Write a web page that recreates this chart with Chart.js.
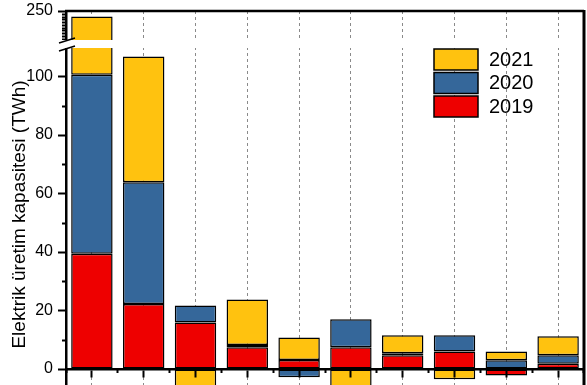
<!DOCTYPE html>
<html>
<head>
<meta charset="utf-8">
<script src="https://cdn.jsdelivr.net/npm/chart.js@4/dist/chart.umd.min.js"></script>
<style>
  body { margin: 0; background: #fff; }
  #wrap { width: 587px; height: 385px; }
</style>
</head>
<body>
<div id="wrap"><canvas id="capChart"></canvas></div>
<script>
/* global Chart */

// categories are cut off in the picture, so plain indexes
const categories = ['1', '2', '3', '4', '5', '6', '7', '8', '9', '10'];
const years = ['2019', '2020', '2021'];
const v2019 = [39.4, 22.2, 15.9, 7.4, 3.1, 7.4, 4.7, 6.0, -2.2, 1.8];
const v2020 = [61.2, 41.6, 5.8, 0.8, -2.8, 9.6, 0.7, 5.5, 3.0, 2.9];
const v2021 = [139.4, 43.0, -7.0, 15.6, 7.7, -7.0, 6.1, -3.5, 3.0, 6.5];
const yLabels = [0, 20, 40, 60, 80, 100];
const yTopLabels = [250];

const colors = ['#EE0000', '#35679A', '#FFC20F'];
const values = [v2019, v2020, v2021];
const FONT = "'Liberation Sans', Arial, sans-serif";

const datasets = [];
['y', 'yTop'].forEach((axis) => {
  for (let i = 0; i < years.length; i += 1) {
    datasets.push({
      label: years[i],
      data: values[i],
      yAxisID: axis,
      xAxisID: 'x',
      backgroundColor: colors[i],
      borderColor: '#000',
      borderWidth: 1.5,
      borderSkipped: false,
      barPercentage: 0.8,
      categoryPercentage: 1,
    });
  }
});

// clip each bar set to its own part of the broken axis
const clipPart = {
  id: 'clipPart',
  beforeDatasetDraw(chart, args) {
    const { ctx, chartArea } = chart;
    const ys = args.meta.yScale;
    ctx.save();
    ctx.beginPath();
    ctx.rect(chartArea.left, ys.top, chartArea.right - chartArea.left, ys.bottom - ys.top);
    ctx.clip();
  },
  afterDatasetDraw(chart) {
    chart.ctx.restore();
  },
};

const decor = {
  id: 'decor',
  afterDraw(chart) {
    const { ctx, chartArea } = chart;
    const y = chart.scales.y;
    const yTop = chart.scales.yTop;
    ctx.save();
    ctx.strokeStyle = '#000';

    // frame top and right
    ctx.lineWidth = 2.5;
    ctx.beginPath();
    ctx.moveTo(chartArea.left - 1, chartArea.top);
    ctx.lineTo(chartArea.right, chartArea.top);
    ctx.stroke();
    ctx.lineWidth = 3;
    ctx.beginPath();
    ctx.moveTo(chartArea.right, chartArea.top - 1);
    ctx.lineTo(chartArea.right, chartArea.bottom);
    ctx.stroke();

    // y tick marks, major and minor
    ctx.lineWidth = 2;
    const tick = (px, len) => {
      ctx.beginPath();
      ctx.moveTo(chartArea.left - len, px);
      ctx.lineTo(chartArea.left, px);
      ctx.stroke();
    };
    for (let v = 0; v <= 100; v += 10) {
      tick(Math.round(y.getPixelForValue(v)) + 0.5, yLabels.includes(v) ? 8 : 4);
    }
    for (let v = 200; v <= 250; v += 5) {
      tick(Math.round(yTop.getPixelForValue(v)) + 0.5, yTopLabels.includes(v) ? 8 : 4);
    }

    // axis break
    const bTop = yTop.bottom - 4;
    const bBot = yTop.bottom + 4;
    ctx.fillStyle = '#fff';
    ctx.fillRect(chartArea.left - 9, bTop, chartArea.right - chartArea.left + 7, bBot - bTop);
    ctx.lineWidth = 1.5;
    ctx.beginPath();
    ctx.moveTo(chartArea.left - 7, bTop + 3);
    ctx.lineTo(chartArea.left + 9, bTop - 2);
    ctx.moveTo(chartArea.left - 7, bBot + 3);
    ctx.lineTo(chartArea.left + 9, bBot - 2);
    ctx.stroke();

    // legend, newest year on top
    const lx = chartArea.right - 150;
    const ly = chartArea.top + 38;
    ctx.font = `20px ${FONT}`;
    ctx.textBaseline = 'middle';
    ctx.textAlign = 'left';
    const own = chart.data.datasets.filter((d) => d.yAxisID === 'y').reverse();
    own.forEach((d, k) => {
      const top = ly + k * 23.5;
      ctx.fillStyle = d.backgroundColor;
      ctx.fillRect(lx, top, 44, 21);
      ctx.lineWidth = 1.5;
      ctx.strokeStyle = '#000';
      ctx.strokeRect(lx, top, 44, 21);
      ctx.fillStyle = '#000';
      ctx.fillText(d.label, lx + 55, top + 11);
    });
    ctx.restore();
  },
};

// fixed axis width, and no extra room kept for half labels at the ends
const fitLeft = (scale) => {
  scale.width = 66;
  scale.paddingTop = 0;
  scale.paddingBottom = 0;
};

const ctx = document.getElementById('capChart');
const capChart = new Chart(ctx, {
  type: 'bar',
  data: { labels: categories, datasets },
  plugins: [clipPart, decor],
  options: {
    responsive: true,
    maintainAspectRatio: false,
    animation: false,
    events: [],
    layout: { padding: { top: 11, right: 3, left: 0, bottom: 0 } },
    plugins: { legend: { display: false }, tooltip: { enabled: false } },
    scales: {
      x: {
        type: 'category',
        stacked: true,
        offset: true,
        position: { y: 0 },
        grid: {
          offset: false,
          color: '#8a8a8a',
          lineWidth: 1,
          drawTicks: false,
        },
        border: { display: false, dash: [3, 3] },
        ticks: { display: false },
      },
      xTick: {
        type: 'category',
        offset: true,
        position: { y: 0 },
        grid: {
          offset: false,
          drawOnChartArea: false,
          tickLength: 7,
          tickColor: '#000',
          tickWidth: 2,
          z: 1,
        },
        border: { display: true, color: '#000', width: 2.5, z: 1 },
        ticks: { display: false },
      },
      xMinor: {
        type: 'category',
        offset: true,
        position: { y: 0 },
        grid: {
          offset: true,
          drawOnChartArea: false,
          tickLength: 4,
          tickColor: '#000',
          tickWidth: 2,
          z: 1,
        },
        border: { display: false },
        ticks: { display: false },
      },
      y: {
        type: 'linear',
        position: 'left',
        stack: 'left',
        stackWeight: 341,
        stacked: true,
        min: -5.47,
        max: 111.1,
        afterFit: fitLeft,
        grid: { drawOnChartArea: false, drawTicks: false },
        border: { display: true, color: '#000', width: 2.5 },
        ticks: {
          stepSize: 10,
          autoSkip: false,
          includeBounds: false,
          padding: 13,
          color: '#000',
          font: { family: FONT, size: 16 },
          callback: (v) => (yLabels.includes(v) ? String(v) : ''),
        },
        title: {
          display: true,
          text: 'Elektrik üretim kapasitesi (TWh)',
          color: '#000',
          font: { family: FONT, size: 19 },
          padding: { top: 8, bottom: 0 },
        },
      },
      yTop: {
        type: 'linear',
        position: 'left',
        stack: 'left',
        stackWeight: 33,
        stacked: true,
        min: 190,
        max: 250,
        afterFit: fitLeft,
        grid: { drawOnChartArea: false, drawTicks: false },
        border: { display: true, color: '#000', width: 2.5 },
        ticks: {
          stepSize: 5,
          autoSkip: false,
          includeBounds: false,
          padding: 13,
          color: '#000',
          font: { family: FONT, size: 16 },
          callback: (v) => (yTopLabels.includes(v) ? String(v) : ''),
        },
      },
    },
  },
});
</script>
</body>
</html>
